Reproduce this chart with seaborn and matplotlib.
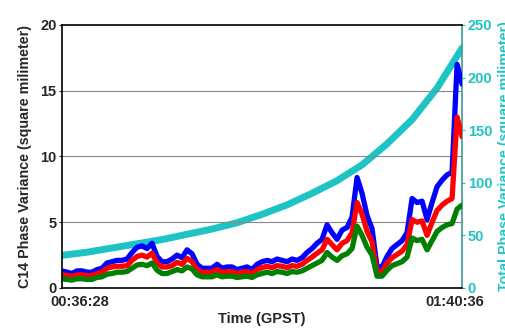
import matplotlib
matplotlib.use("Agg")
import matplotlib.pyplot as plt
import seaborn as sns
import numpy as np
import pandas as pd

sns.set_style("white")
plt.rcParams['font.family'] = ['Liberation Sans', 'DejaVu Sans']

# elapsed seconds from 00:36:28 to 01:40:36 (3848 s), 81 samples
n_pts = 81
t_end = 3848
xtick_labels = ["00:36:28", "01:40:36"]

blue = [1.3,1.2,1.1,1.3,1.3,1.2,1.2,1.4,1.5,1.9,2.0,2.1,2.1,2.2,2.7,3.1,3.2,3.0,3.4,2.4,
        2.0,2.0,2.2,2.5,2.3,2.9,2.6,1.8,1.5,1.5,1.5,1.8,1.5,1.6,1.6,1.4,1.5,1.6,1.4,1.8,
        2.0,2.1,2.0,2.2,2.1,2.0,2.2,2.1,2.3,2.7,3.0,3.4,3.7,4.8,4.2,3.7,4.4,4.6,5.4,8.4,
        7.2,5.5,4.5,1.6,1.6,2.4,3.0,3.3,3.6,4.2,6.8,6.5,6.6,5.2,6.5,7.7,8.2,8.6,8.8,17.0,15.5]
red = [1.0,0.95,0.9,1.0,1.0,0.95,0.95,1.1,1.2,1.5,1.6,1.65,1.65,1.7,2.1,2.4,2.5,2.35,2.65,1.9,
       1.6,1.6,1.7,1.95,1.8,2.25,2.0,1.4,1.2,1.2,1.2,1.4,1.2,1.25,1.25,1.1,1.2,1.25,1.1,1.4,
       1.55,1.65,1.55,1.7,1.65,1.55,1.7,1.65,1.8,2.1,2.35,2.65,2.9,3.7,3.3,2.9,3.4,3.6,4.2,6.5,
       5.6,4.3,3.5,1.2,1.25,1.9,2.3,2.55,2.8,3.3,5.2,5.0,5.1,4.0,5.0,5.9,6.3,6.6,6.8,13.0,11.5]
green = [0.7,0.65,0.6,0.7,0.7,0.65,0.65,0.8,0.85,1.05,1.1,1.2,1.2,1.25,1.5,1.75,1.8,1.7,1.9,1.35,
         1.1,1.1,1.25,1.4,1.3,1.6,1.45,1.0,0.85,0.85,0.85,1.0,0.85,0.9,0.9,0.8,0.85,0.9,0.8,1.0,
         1.1,1.2,1.1,1.25,1.2,1.1,1.25,1.2,1.3,1.5,1.7,1.9,2.1,2.7,2.35,2.1,2.45,2.6,3.0,4.7,
         4.0,3.1,2.5,0.9,0.9,1.35,1.7,1.85,2.0,2.35,3.8,3.6,3.7,2.9,3.6,4.3,4.6,4.8,4.9,6.0,6.3]
# right axis series, 17 samples
cyan = [31,34,38,42,46,51,56,62,70,79,90,102,117,137,160,190,228]

t = np.linspace(0, t_end, n_pts)
tc = np.linspace(0, t_end, len(cyan))
df = pd.DataFrame({"t": t, "blue": blue, "red": red, "green": green})
dfc = pd.DataFrame({"t": tc, "cyan": cyan})

fig = plt.figure(figsize=(5.05, 3.28), dpi=100)
ax = fig.add_axes([0.1228, 0.122, 0.7922, 0.802])
ax2 = ax.twinx()

ax.set_zorder(ax2.get_zorder() + 1)
ax.patch.set_visible(False)

cyan_c = "#1ec4c4"
sns.lineplot(data=dfc, x="t", y="cyan", ax=ax2, color=cyan_c, lw=5.0,
             solid_capstyle="round", solid_joinstyle="round")
for col, c in [("blue", "#0000ff"), ("red", "#ff0000"), ("green", "#008000")]:
    sns.lineplot(data=df, x="t", y=col, ax=ax, color=c, lw=3.8,
                 solid_capstyle="round", solid_joinstyle="round")

ax.set_xlim(0, t_end)
ax.set_ylim(0, 20)
ax2.set_ylim(0, 250)
ax.set_yticks([0, 5, 10, 15, 20])
ax2.set_yticks([0, 50, 100, 150, 200, 250])
for y in [5, 10, 15]:
    ax.axhline(y, color="#888888", lw=0.8, zorder=0)

ax.set_xticks([175, 3780])
ax.set_xticklabels(xtick_labels)
ax.tick_params(axis="x", length=0, pad=5, labelsize=10.5)
ax.tick_params(axis="y", length=2, pad=2, labelsize=10.5)
ax2.tick_params(axis="y", length=2, pad=2, labelsize=10.5, colors=cyan_c)
for lab in ax.get_xticklabels() + ax.get_yticklabels():
    lab.set_fontweight("bold")
for lab in ax2.get_yticklabels():
    lab.set_fontweight("bold")
    lab.set_color(cyan_c)

ax.set_xlabel("Time (GPST)", fontsize=10.5, fontweight="bold", labelpad=2)
ax.set_ylabel("C14 Phase Variance (square milimeter)", fontsize=10.3, fontweight="bold", labelpad=6)
ax2.set_ylabel("Total Phase Variance (square milimeter)", fontsize=10.3, fontweight="bold",
               color=cyan_c, rotation=90, labelpad=4)

for sp in ["left", "top", "bottom"]:
    ax.spines[sp].set_color("black")
    ax.spines[sp].set_linewidth(1.2)
ax.spines["right"].set_visible(False)
for sp in ["left", "top", "bottom"]:
    ax2.spines[sp].set_visible(False)
ax2.spines["right"].set_color("#3a9a9a")
ax2.spines["right"].set_linewidth(1.2)

fig.savefig("out.png", dpi=100)
